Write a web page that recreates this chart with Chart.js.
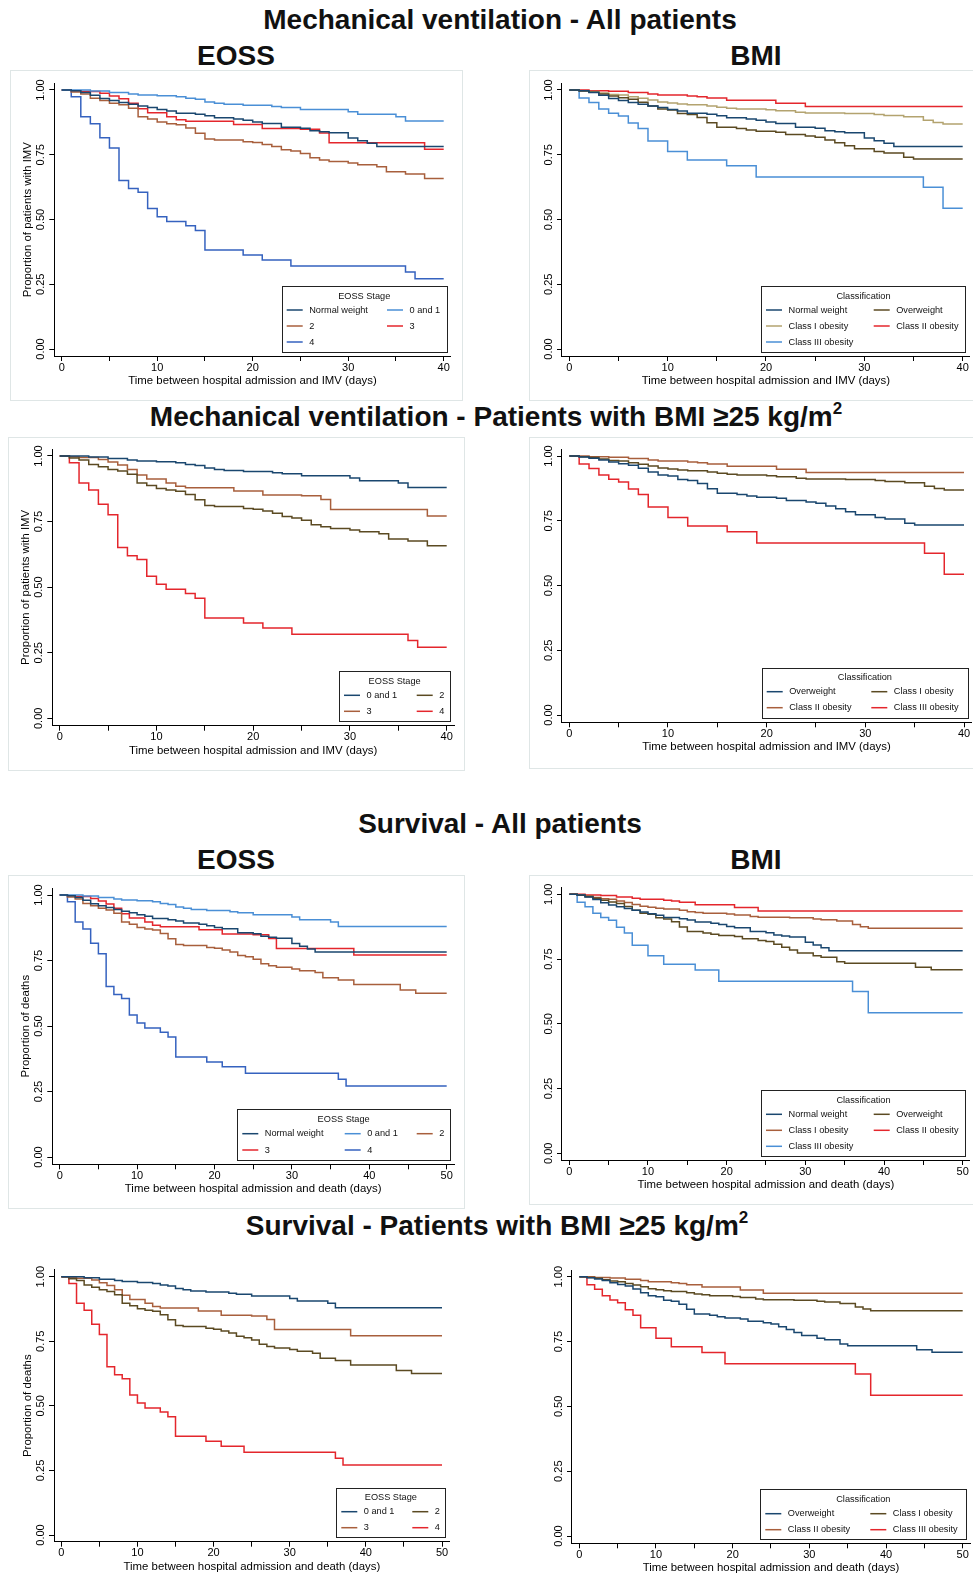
<!DOCTYPE html>
<html>
<head>
<meta charset="utf-8">
<script src="https://cdn.jsdelivr.net/npm/chart.js@4.4.1/dist/chart.umd.min.js"></script>
<style>
body{margin:0;background:#fff;}
#page{position:relative;width:973px;height:1576px;overflow:hidden;font-family:"Liberation Sans",Arial,sans-serif;}
.ttl{position:absolute;width:800px;text-align:center;font-weight:bold;font-size:28px;line-height:28px;color:#111;white-space:nowrap;}
.ttl sup{font-size:17px;line-height:0;position:relative;top:-2px;}
.frame{position:absolute;border:1px solid #dfe6e6;box-sizing:border-box;}
canvas{position:absolute;}
</style>
</head>
<body>
<div id="page">
  <div class="ttl" style="left:100px;top:6px">Mechanical ventilation - All patients</div>
  <div class="ttl" style="left:-164px;top:42px">EOSS</div>
  <div class="ttl" style="left:356px;top:42px">BMI</div>
  <div class="ttl" style="left:96px;top:403px">Mechanical ventilation - Patients with BMI ≥25 kg/m<sup>2</sup></div>
  <div class="ttl" style="left:100px;top:810px">Survival - All patients</div>
  <div class="ttl" style="left:-164px;top:846px">EOSS</div>
  <div class="ttl" style="left:356px;top:846px">BMI</div>
  <div class="ttl" style="left:97px;top:1212px">Survival - Patients with BMI ≥25 kg/m<sup>2</sup></div>

  <div class="frame" style="left:10px;top:70px;width:453px;height:331px"></div>
  <div class="frame" style="left:529px;top:70px;width:450px;height:331px"></div>
  <div class="frame" style="left:8px;top:437px;width:457px;height:334px"></div>
  <div class="frame" style="left:529px;top:437px;width:450px;height:332px"></div>
  <div class="frame" style="left:8px;top:875px;width:457px;height:334px"></div>
  <div class="frame" style="left:529px;top:875px;width:450px;height:330px"></div>
</div>
<script>
// Kaplan-Meier steps: day of the drop and the estimate after it
const normalT = [1, 2, 3, 4, 5, 6, 7, 8, 9, 10, 11, 12, 14, 15, 16, 18, 19, 20, 21, 23, 25, 26, 27, 28, 30, 31, 32, 33];
const normalS = [0.997, 0.990, 0.980, 0.967, 0.959, 0.952, 0.945, 0.938, 0.932, 0.925, 0.919, 0.910, 0.906, 0.901, 0.893, 0.888, 0.883, 0.876, 0.871, 0.856, 0.852, 0.843, 0.839, 0.835, 0.815, 0.804, 0.794, 0.782];

const stage01T = [3, 5, 7, 8, 10, 12, 13, 14, 15, 16, 17, 19, 22, 23, 25, 30, 31, 35, 36];
const stage01S = [0.996, 0.990, 0.985, 0.981, 0.978, 0.974, 0.968, 0.964, 0.954, 0.949, 0.945, 0.941, 0.936, 0.932, 0.925, 0.916, 0.906, 0.897, 0.880];

const stage2T = [1, 2, 3, 4, 5, 6, 7, 8, 9, 10, 11, 12, 13, 14, 15, 16, 19, 20, 21, 22, 23, 24, 25, 26, 27, 28, 30, 31, 33, 34, 36, 38];
const stage2S = [0.992, 0.985, 0.968, 0.959, 0.949, 0.943, 0.930, 0.897, 0.888, 0.876, 0.870, 0.866, 0.853, 0.833, 0.811, 0.807, 0.800, 0.797, 0.790, 0.782, 0.769, 0.764, 0.755, 0.738, 0.730, 0.724, 0.718, 0.711, 0.704, 0.684, 0.676, 0.658];

const stage3T = [1, 2, 4, 5, 6, 7, 8, 9, 11, 12, 13, 18, 21, 25, 27, 28, 38];
const stage3S = [0.997, 0.994, 0.987, 0.977, 0.966, 0.949, 0.928, 0.912, 0.897, 0.885, 0.879, 0.867, 0.851, 0.848, 0.834, 0.796, 0.771];

const stage4T = [1, 2, 3, 4, 5, 6, 7, 8, 9, 10, 11, 13, 14, 15, 19, 21, 24, 36, 37];
const stage4S = [0.974, 0.897, 0.870, 0.816, 0.776, 0.651, 0.620, 0.605, 0.542, 0.511, 0.492, 0.476, 0.458, 0.382, 0.363, 0.344, 0.320, 0.297, 0.271];

const overT = [1, 2, 3, 4, 5, 6, 7, 8, 9, 10, 11, 12, 13, 14, 15, 17, 18, 19, 21, 22, 24, 25, 26, 27, 28, 29, 31, 32, 34, 35];
const overS = [0.996, 0.991, 0.985, 0.977, 0.970, 0.964, 0.953, 0.938, 0.927, 0.923, 0.909, 0.905, 0.894, 0.874, 0.856, 0.851, 0.846, 0.841, 0.837, 0.828, 0.822, 0.818, 0.807, 0.796, 0.785, 0.773, 0.763, 0.757, 0.740, 0.734];

const class1T = [1, 2, 3, 4, 5, 6, 7, 8, 9, 10, 11, 12, 14, 15, 16, 17, 20, 21, 23, 24, 28, 31, 32, 34, 36, 37, 38];
const class1S = [0.997, 0.994, 0.988, 0.983, 0.981, 0.974, 0.968, 0.961, 0.954, 0.950, 0.946, 0.943, 0.938, 0.933, 0.930, 0.927, 0.924, 0.920, 0.914, 0.911, 0.909, 0.905, 0.902, 0.897, 0.883, 0.875, 0.869];

const class2T = [2, 4, 6, 8, 9, 12, 13, 14, 16, 21, 24];
const class2S = [0.997, 0.995, 0.990, 0.985, 0.981, 0.977, 0.974, 0.969, 0.960, 0.949, 0.936];

const class3T = [1, 2, 3, 4, 5, 6, 7, 8, 10, 12, 16, 19, 36, 38];
const class3S = [0.969, 0.952, 0.927, 0.910, 0.900, 0.873, 0.851, 0.803, 0.763, 0.730, 0.708, 0.664, 0.625, 0.543];

// extra drops after day 40 in the survival curves
const stage2TailT = [44, 46];
const stage2TailS = [0.637, 0.625];
const overTailT = [44, 46];
const overTailS = [0.718, 0.709];

const xLabelsMV = [0, 10, 20, 30, 40];
const xLabelsSurv = [0, 10, 20, 30, 40, 50];
const yLabels = [0, 0.25, 0.5, 0.75, 1];

const col = {
  navy: '#1a476f', ltblue: '#4a8fd6', sienna: '#a85f3c', red: '#e4262c',
  royal: '#3562bf', olive: '#5b4a22', khaki: '#b3a36f'
};

Chart.defaults.font.family = '"Liberation Sans", Arial, sans-serif';
Chart.defaults.color = '#000';

const km = (t, s, end) => {
  const pts = [{x: 0, y: 1}];
  t.forEach((d, i) => pts.push({x: d, y: s[i]}));
  pts.push({x: end, y: s[s.length - 1]});
  return pts;
};

const decor = {
  id: 'decor',
  afterDraw(chart, args, o) {
    const ctx = chart.ctx;
    const ys = chart.scales.y;
    ctx.save();
    ctx.fillStyle = '#000';
    ctx.font = '11px "Liberation Sans", Arial, sans-serif';
    ctx.textAlign = 'center';
    ctx.textBaseline = 'middle';
    yLabels.forEach(v => {
      ctx.save();
      ctx.translate(ys.right - 13.5, ys.getPixelForValue(v));
      ctx.rotate(-Math.PI / 2);
      ctx.fillText(v.toFixed(2), 0, 0);
      ctx.restore();
    });

    const lg = o.legend;
    const ox = o.cl, oy = o.ct;
    const [x1, y1, x2, y2] = lg.box;
    ctx.fillStyle = '#fff';
    ctx.fillRect(x1 - ox, y1 - oy, x2 - x1, y2 - y1);
    ctx.strokeStyle = '#222';
    ctx.lineWidth = 1;
    ctx.strokeRect(Math.round(x1 - ox) + 0.5, Math.round(y1 - oy) + 0.5, Math.round(x2 - x1), Math.round(y2 - y1));
    ctx.fillStyle = '#111';
    ctx.font = '9.2px "Liberation Sans", Arial, sans-serif';
    ctx.fillText(lg.title, (x1 + x2) / 2 - ox, lg.titleY - oy);
    ctx.textAlign = 'left';
    chart.data.datasets.forEach((ds, i) => {
      const r = Math.floor(i / lg.cols.length), c = i % lg.cols.length;
      const sx = lg.cols[c] - ox, sy = lg.rows[r] - oy;
      ctx.strokeStyle = ds.borderColor;
      ctx.lineWidth = 1.5;
      ctx.beginPath();
      ctx.moveTo(sx, sy);
      ctx.lineTo(sx + 16, sy);
      ctx.stroke();
      ctx.fillStyle = '#111';
      ctx.fillText(ds.label, sx + 22.5, sy);
    });
    ctx.restore();
  }
};

const mvX = 'Time between hospital admission and IMV (days)';
const dX = 'Time between hospital admission and death (days)';

const panels = [
  {ax: [54.3, 450.7, 83.3, 356], px: [61.7, 443.7, 90, 349], xMax: 40, yTitle: 'Proportion of patients with IMV', xTitle: mvX,
   series: [['Normal weight', normalT, normalS, col.navy], ['0 and 1', stage01T, stage01S, col.ltblue], ['2', stage2T, stage2S, col.sienna], ['3', stage3T, stage3S, col.red], ['4', stage4T, stage4S, col.royal]],
   legend: {box: [281.7, 286, 446.7, 352], title: 'EOSS Stage', titleY: 296, rows: [310, 326, 342], cols: [286.7, 387]}},
  {ax: [562, 969.7, 83.3, 356], px: [569.3, 962.7, 90, 349], xMax: 40, yTitle: null, xTitle: mvX,
   series: [['Normal weight', normalT, normalS, col.navy], ['Overweight', overT, overS, col.olive], ['Class I obesity', class1T, class1S, col.khaki], ['Class II obesity', class2T, class2S, col.red], ['Class III obesity', class3T, class3S, col.ltblue]],
   legend: {box: [761.3, 286, 965.7, 352], title: 'Classification', titleY: 296, rows: [310, 326, 342], cols: [766, 873.7]}},
  {ax: [52.3, 454, 449, 725.7], px: [59.7, 446.7, 456, 718.3], xMax: 40, yTitle: 'Proportion of patients with IMV', xTitle: mvX,
   series: [['0 and 1', stage01T, stage01S, col.navy], ['2', stage2T, stage2S, col.olive], ['3', stage3T, stage3S, col.sienna], ['4', stage4T, stage4S, col.red]],
   legend: {box: [339, 671, 450.3, 721], title: 'EOSS Stage', titleY: 681, rows: [695.3, 711.3], cols: [344, 416.7]}},
  {ax: [562, 971, 449, 722.3], px: [569.3, 964, 456, 715], xMax: 40, yTitle: null, xTitle: mvX,
   series: [['Overweight', overT, overS, col.navy], ['Class I obesity', class1T, class1S, col.olive], ['Class II obesity', class2T, class2S, col.sienna], ['Class III obesity', class3T, class3S, col.red]],
   legend: {box: [762, 667.7, 967.7, 717.7], title: 'Classification', titleY: 677.7, rows: [691.7, 707.7], cols: [766.7, 871.3]}},
  {ax: [52.3, 454, 888, 1164.3], px: [59.7, 446.7, 895, 1157], xMax: 50, yTitle: 'Proportion of deaths', xTitle: dX,
   series: [['Normal weight', normalT, normalS, col.navy], ['0 and 1', stage01T, stage01S, col.ltblue], ['2', stage2T.concat(stage2TailT), stage2S.concat(stage2TailS), col.sienna], ['3', stage3T, stage3S, col.red], ['4', stage4T, stage4S, col.royal]],
   legend: {box: [237, 1109.3, 450.3, 1160], title: 'EOSS Stage', titleY: 1119.3, rows: [1133.7, 1150], cols: [242.3, 344.7, 416.7]}},
  {ax: [562, 969.7, 887, 1160], px: [569.3, 962.7, 894.3, 1153.3], xMax: 50, yTitle: null, xTitle: dX,
   series: [['Normal weight', normalT, normalS, col.navy], ['Overweight', overT.concat(overTailT), overS.concat(overTailS), col.olive], ['Class I obesity', class1T, class1S, col.sienna], ['Class II obesity', class2T, class2S, col.red], ['Class III obesity', class3T, class3S, col.ltblue]],
   legend: {box: [761.3, 1090.3, 965.7, 1156], title: 'Classification', titleY: 1100, rows: [1114.3, 1130.3, 1146.3], cols: [766, 873.7]}},
  {ax: [54, 449.7, 1269.7, 1541.7], px: [61.3, 442, 1276.7, 1535], xMax: 50, yTitle: 'Proportion of deaths', xTitle: dX,
   series: [['0 and 1', stage01T, stage01S, col.navy], ['2', stage2T.concat(stage2TailT), stage2S.concat(stage2TailS), col.olive], ['3', stage3T, stage3S, col.sienna], ['4', stage4T, stage4S, col.red]],
   legend: {box: [336.3, 1488, 445.3, 1537.3], title: 'EOSS Stage', titleY: 1497.7, rows: [1511.7, 1527.7], cols: [341.3, 412.3]}},
  {ax: [572, 970, 1270, 1543.3], px: [579.3, 962.7, 1276.7, 1536], xMax: 50, yTitle: null, xTitle: dX,
   series: [['Overweight', overT.concat(overTailT), overS.concat(overTailS), col.navy], ['Class I obesity', class1T, class1S, col.olive], ['Class II obesity', class2T, class2S, col.sienna], ['Class III obesity', class3T, class3S, col.red]],
   legend: {box: [760.3, 1489.3, 966.3, 1539.3], title: 'Classification', titleY: 1499.3, rows: [1513.7, 1529.7], cols: [765.3, 870.3]}}
];

const page = document.querySelector('#page');
const titleFont = {size: 11.4, lineHeight: 1.2};
const yW = 32.84, xH = 31.84;

panels.forEach(p => {
  const [axL, axR, axT, axB] = p.ax;
  const [x0, xE, y1, y0] = p.px;
  const cl = Math.floor(axL - 48), ct = Math.floor(axT - 8);
  const cw = Math.ceil(axR + 8 - cl), ch = Math.ceil(axB + 36 - ct);
  const xppu = (xE - x0) / p.xMax;
  const yppu = y0 - y1;
  const labels = p.xMax === 50 ? xLabelsSurv : xLabelsMV;

  const cv = document.createElement('canvas');
  cv.width = cw; cv.height = ch;
  cv.style.left = cl + 'px'; cv.style.top = ct + 'px';
  page.appendChild(cv);

  new Chart(cv.getContext('2d'), {
    type: 'line',
    data: {
      datasets: p.series.map(s => ({
        label: s[0], data: km(s[1], s[2], p.xMax), borderColor: s[3],
        borderWidth: 1.5, pointRadius: 0, stepped: true, fill: false
      }))
    },
    options: {
      responsive: false, animation: false, devicePixelRatio: 1,
      layout: {padding: {left: axL - yW - cl, top: axT - ct, right: cl + cw - axR, bottom: ct + ch - axB - xH}},
      plugins: {
        legend: {display: false}, tooltip: {enabled: false},
        decor: {legend: p.legend, cl: cl, ct: ct}
      },
      scales: {
        x: {
          type: 'linear',
          min: -(x0 - axL) / xppu, max: p.xMax + (axR - xE) / xppu,
          afterFit: s => { s.height = xH; },
          border: {display: true, color: '#000', width: 1},
          grid: {display: true, drawOnChartArea: false, drawTicks: true, tickLength: 5, color: '#000'},
          ticks: {stepSize: 5, includeBounds: false, autoSkip: false, maxRotation: 0, padding: 0,
                  font: {size: 11}, callback: v => labels.includes(v) ? String(v) : ''},
          title: {display: true, text: p.xTitle, font: titleFont, padding: 0}
        },
        y: {
          type: 'linear',
          min: -(axB - y0) / yppu, max: 1 + (y1 - axT) / yppu,
          afterFit: s => { s.width = yW; },
          border: {display: true, color: '#000', width: 1},
          grid: {display: true, drawOnChartArea: false, drawTicks: true, tickLength: 5, color: '#000'},
          ticks: {stepSize: 0.25, includeBounds: false, display: false},
          title: {display: !!p.yTitle, text: p.yTitle || '', font: titleFont, padding: 0}
        }
      }
    },
    plugins: [decor]
  });
});
</script>
</body>
</html>
